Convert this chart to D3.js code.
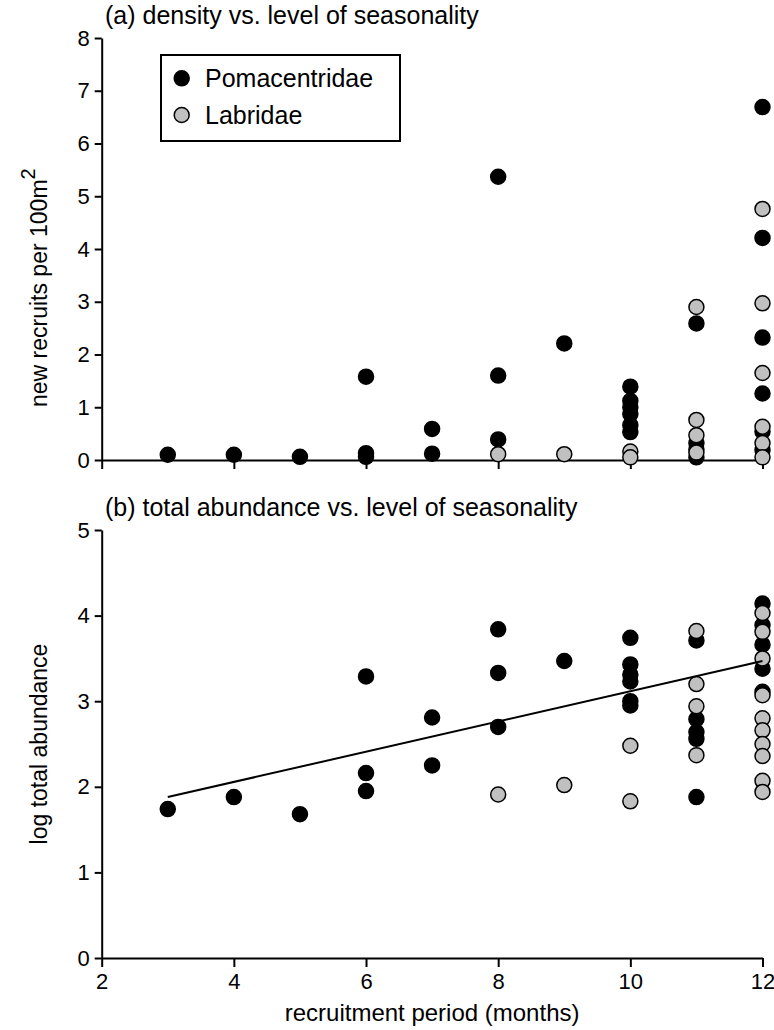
<!DOCTYPE html>
<html>
<head>
<meta charset="utf-8">
<script src="https://cdn.jsdelivr.net/npm/d3@7"></script>
<style>
  body { margin: 0; background: #fff; }
  svg text { font-family: "Liberation Sans", Arial, sans-serif; fill: #000; }
</style>
</head>
<body>
<svg id="chart" width="774" height="1030"></svg>
<script>
// ---- data ----
const xTicks = [2, 4, 6, 8, 10, 12];
const densityTicks = [0, 1, 2, 3, 4, 5, 6, 7, 8];
const abundTicks = [0, 1, 2, 3, 4, 5];

// (a) density: [recruitment period, new recruits per 100 m2]
const pomaDensity = [
  [3, 0.10], [4, 0.10], [5, 0.06],
  [6, 1.58], [6, 0.13], [6, 0.06],
  [7, 0.59], [7, 0.12],
  [8, 5.37], [8, 1.60], [8, 0.39],
  [9, 2.21],
  [10, 1.39], [10, 1.12], [10, 1.00], [10, 0.87], [10, 0.66], [10, 0.53],
  [11, 2.59], [11, 0.32], [11, 0.20], [11, 0.05],
  [12, 6.69], [12, 4.21], [12, 2.32], [12, 1.26], [12, 0.54], [12, 0.19]
];
const labrDensity = [
  [8, 0.11], [9, 0.11],
  [10, 0.16], [10, 0.05],
  [11, 2.90], [11, 0.76], [11, 0.47], [11, 0.14],
  [12, 4.76], [12, 2.97], [12, 1.65], [12, 0.63], [12, 0.32], [12, 0.05]
];

// (b) log total abundance
const pomaAbund = [
  [3, 1.74], [4, 1.88], [5, 1.68],
  [6, 3.29], [6, 2.16], [6, 1.95],
  [7, 2.81], [7, 2.25],
  [8, 3.84], [8, 3.33], [8, 2.70],
  [9, 3.47],
  [10, 3.74], [10, 3.43], [10, 3.31], [10, 3.23], [10, 3.00], [10, 2.95],
  [11, 3.71], [11, 2.79], [11, 2.64], [11, 2.56], [11, 1.88],
  [12, 4.14], [12, 3.89], [12, 3.66], [12, 3.38], [12, 3.11]
];
const labrAbund = [
  [8, 1.91], [9, 2.02],
  [10, 2.48], [10, 1.83],
  [11, 3.82], [11, 3.20], [11, 2.94], [11, 2.37],
  [12, 4.03], [12, 3.81], [12, 3.50], [12, 3.07], [12, 2.80], [12, 2.66],
  [12, 2.50], [12, 2.36], [12, 2.07], [12, 1.94]
];
const fitLine = [[3, 1.88], [12, 3.47]];

const seriesNames = ["Pomacentridae", "Labridae"];
const seriesFill = ["#000000", "#c0c0c0"];

// ---- layout ----
const svg = d3.select("#chart");
const x = d3.scaleLinear().domain([2, 12]).range([101.7, 762.5]);
const yA = d3.scaleLinear().domain([0, 8]).range([460, 38]);
const yB = d3.scaleLinear().domain([0, 5]).range([958, 530]);
const R = 7.5;

function styleAxis(g) {
  g.selectAll("path.domain").attr("stroke", "#000").attr("stroke-width", 2);
  g.selectAll(".tick line").attr("stroke", "#000").attr("stroke-width", 2);
  g.selectAll(".tick text")
    .style("font-family", '"Liberation Sans", Arial, sans-serif')
    .style("font-size", "22px").attr("fill", "#000");
}

function panel(y, ticks, poma, labr, title, titleY, ylab, ylabOpts, showXLabels) {
  const gy = svg.append("g").attr("transform", `translate(${x(2)},0)`)
    .call(d3.axisLeft(y).tickValues(ticks).tickFormat(d3.format("d"))
      .tickSize(7).tickSizeOuter(0).tickPadding(5));
  styleAxis(gy);

  const gx = svg.append("g").attr("transform", `translate(0,${y(0)})`)
    .call(d3.axisBottom(x).tickValues(xTicks)
      .tickFormat(showXLabels ? d3.format("d") : "")
      .tickSize(9).tickSizeOuter(0).tickPadding(6));
  styleAxis(gx);

  svg.append("text").attr("x", 105).attr("y", titleY)
    .style("font-size", "25px").text(title);

  const yl = svg.append("text")
    .attr("transform", `translate(${ylabOpts.x},${ylabOpts.y}) rotate(-90)`)
    .attr("text-anchor", ylabOpts.anchor)
    .style("font-size", "23px");
  yl.append("tspan").text(ylab);
  if (ylabOpts.sup) {
    yl.append("tspan").attr("dy", -12).style("font-size", "20px").text(ylabOpts.sup);
  }

  svg.append("g").selectAll("circle").data(poma).join("circle")
    .attr("cx", d => x(d[0])).attr("cy", d => y(d[1])).attr("r", R)
    .attr("fill", seriesFill[0]).attr("stroke", "#000").attr("stroke-width", 1.5);
  svg.append("g").selectAll("circle").data(labr).join("circle")
    .attr("cx", d => x(d[0])).attr("cy", d => y(d[1])).attr("r", R)
    .attr("fill", seriesFill[1]).attr("stroke", "#000").attr("stroke-width", 1.5);
}

panel(yA, densityTicks, pomaDensity, labrDensity,
  "(a) density vs. level of seasonality", 24,
  "new recruits per 100m", { x: 47, y: 407, anchor: "start", sup: "2" }, false);

panel(yB, abundTicks, pomaAbund, labrAbund,
  "(b) total abundance vs. level of seasonality", 516,
  "log total abundance", { x: 47, y: yB(2.5), anchor: "middle" }, true);

// regression line
svg.append("path").datum(fitLine)
  .attr("d", d3.line().x(d => x(d[0])).y(d => yB(d[1])))
  .attr("fill", "none").attr("stroke", "#000").attr("stroke-width", 2);

// x-axis label
svg.append("text").attr("x", x(7)).attr("y", 1021)
  .attr("text-anchor", "middle").style("font-size", "24px")
  .text("recruitment period (months)");

// legend
const lg = svg.append("g");
lg.append("rect").attr("x", 161).attr("y", 55).attr("width", 239).attr("height", 86)
  .attr("fill", "#fff").attr("stroke", "#000").attr("stroke-width", 2);
seriesNames.forEach((name, i) => {
  const cy = 78.3 + i * 36.7;
  lg.append("circle").attr("cx", 181.7).attr("cy", cy).attr("r", R)
    .attr("fill", seriesFill[i]).attr("stroke", "#000").attr("stroke-width", 1.5);
  lg.append("text").attr("x", 205).attr("y", cy + 9)
    .style("font-size", "25px").text(name);
});
</script>
</body>
</html>
